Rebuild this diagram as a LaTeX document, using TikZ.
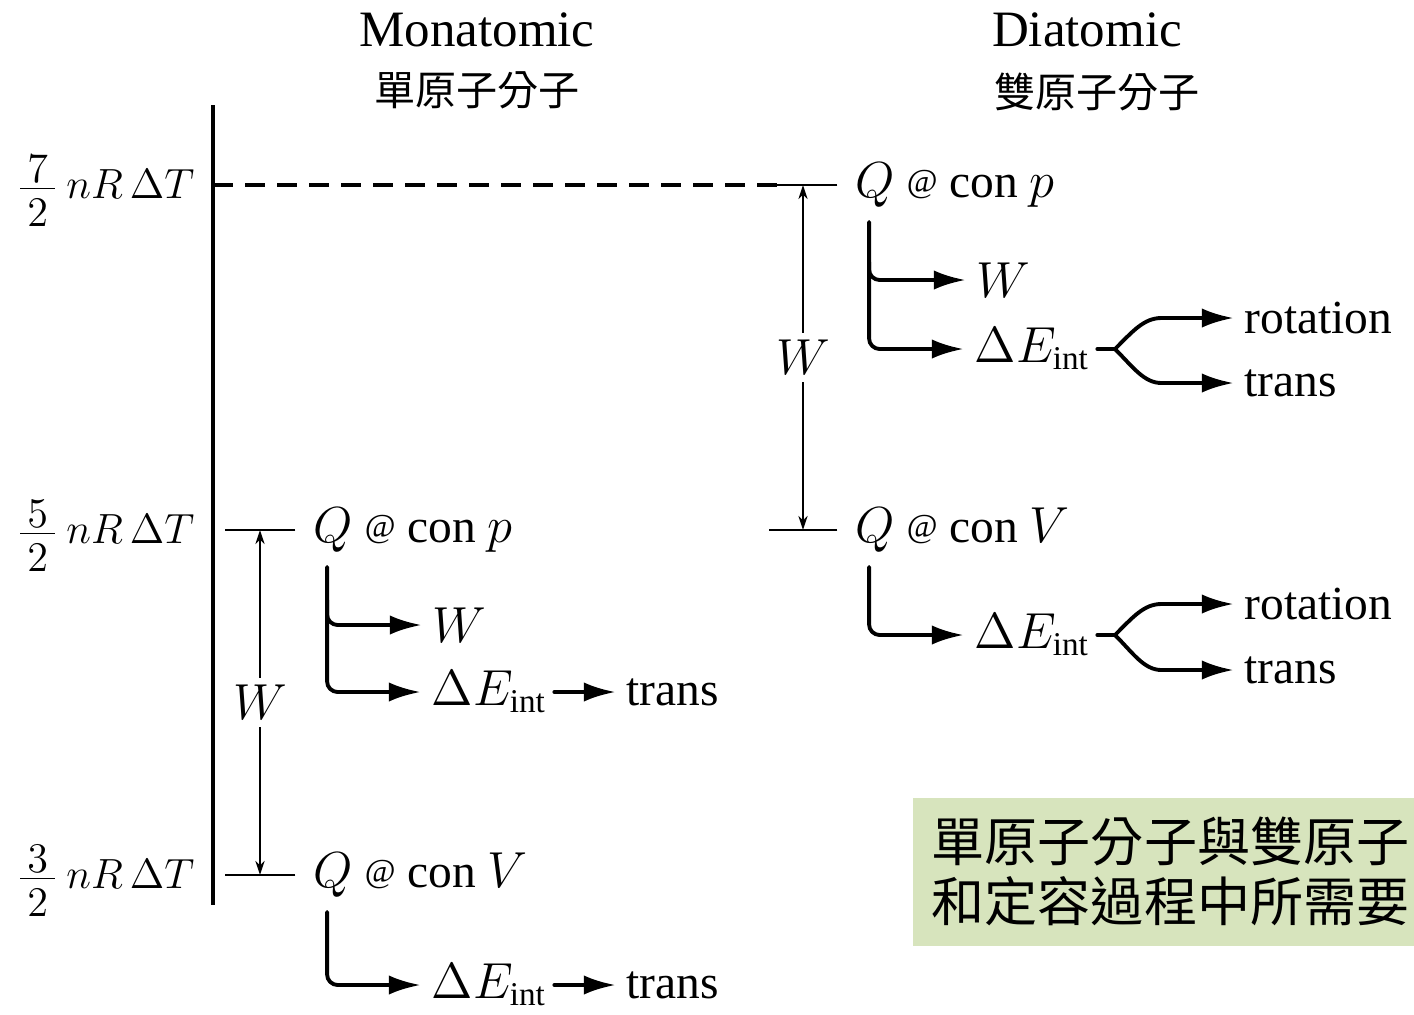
\documentclass[tikz,border=0pt]{standalone}
\usepackage{amsmath}
\usepackage{fontspec}
\setmainfont{Liberation Serif}
\newfontfamily\cjk{Noto Sans CJK TC}
\usepackage{tikz}
\usetikzlibrary{positioning,arrows.meta}
\definecolor{notegreen}{HTML}{D7E4BD}
\newcommand{\smallat}{\raisebox{1.5pt}{\fontsize{9.5}{10}\selectfont @}}
\newcommand{\Eint}{$\Delta E_{\mathrm{int}}$}
\newcommand{\lvlfrac}[1]{$\frac{\textstyle\mkern3mu #1\mkern3mu}{\textstyle\mkern3mu\rule{0pt}{10.2pt}2\mkern3mu}\,nR\,\Delta T$}

\begin{document}
\begin{tikzpicture}[
  x=0.01cm, y=-0.01cm,
  every node/.style={font=\fontsize{13.5}{16}\selectfont, inner sep=2pt},
  title/.style={font=\fontsize{14.5}{16}\selectfont},
  cjktitle/.style={font=\fontsize{11.7}{14}\selectfont\cjk},
  level/.style={anchor=east, font=\fontsize{12.5}{15}\selectfont},
  qbox/.style={anchor=west},
  leaf/.style={anchor=west},
  axis/.style={line width=1.2pt},
  stem/.style={line width=1.1pt, line cap=round},
  branch/.style={stem, rounded corners=3pt, -{Latex[length=9pt,width=5.5pt]}, shorten >=1pt},
  tick/.style={line width=0.45pt},
  dim/.style={line width=0.45pt, {Stealth[length=4pt,width=2.6pt]}-{Stealth[length=4pt,width=2.6pt]}},
  guide/.style={line width=0.9pt, dash pattern=on 5.7pt off 3.4pt},
  note/.style={fill=notegreen, anchor=north west, minimum height=1.48cm,
    text width=136pt, inner xsep=5.4pt, align=left, font=\fontsize{15.1}{17}\selectfont\cjk}
]
  \useasboundingbox (0,0) rectangle (1414,1014);

  % headings
  \node[title]    (monoT) at (477,30) {Monatomic};
  \node[cjktitle] (monoC) at (477,90) {單原子分子};
  \node[title]    (diaT)  at (1087,30) {Diatomic};
  \node[cjktitle] (diaC)  at (1097,92) {雙原子分子};

  % energy axis
  \draw[axis] (213,105) -- (213,905);
  \node[level] (lvl7) at (202,191) {\lvlfrac{7}};
  \node[level] (lvl5) at (202,536) {\lvlfrac{5}};
  \node[level] (lvl3) at (202,881) {\lvlfrac{3}};
  \coordinate (ax7) at (213,185);
  \coordinate (dashEnd) at (787,185);
  \draw[guide] (ax7) -- (dashEnd);

  % monatomic
  \node[qbox] (mpQ) at (306,530) {$Q$ \smallat\ con $p$};
  \node[qbox] (mvQ) at (306,875) {$Q$ \smallat\ con $V$};
  \draw[tick] ([xshift=-3pt]mpQ.west) -- ++(-70,0);
  \draw[tick] ([xshift=-3pt]mvQ.west) -- ++(-70,0);
  \coordinate (mx) at (260,0);
  \draw[dim] (mvQ.west -| mx) -- (mpQ.west -| mx) node[midway, fill=white] {$W$};

  \node[leaf] (mpW) at (425,625) {$W$};
  \node[leaf] (mpE) at (424,692) {\Eint};
  \node[leaf] (mpT) at (619,692) {trans};
  \coordinate (mpS) at ([xshift=6pt,yshift=-2pt]mpQ.south west);
  \draw[branch] (mpS) |- (mpE.west);
  \draw[branch] (mpS) ++(0,33) |- (mpW.west);
  \draw[branch] (mpE.east) -- (mpT.west);

  \node[leaf] (mvE) at (424,985) {\Eint};
  \node[leaf] (mvT) at (619,985) {trans};
  \coordinate (mvS) at ([xshift=6pt,yshift=-2pt]mvQ.south west);
  \draw[branch] (mvS) |- (mvE.west);
  \draw[branch] (mvE.east) -- (mvT.west);

  % diatomic
  \node[qbox] (dpQ) at (848,185) {$Q$ \smallat\ con $p$};
  \node[qbox] (dvQ) at (848,530) {$Q$ \smallat\ con $V$};
  \draw[tick] ([xshift=-3pt]dpQ.west) -- ++(-68,0);
  \draw[tick] ([xshift=-3pt]dvQ.west) -- ++(-68,0);
  \coordinate (dx) at (803,0);
  \draw[dim] (dvQ.west -| dx) -- (dpQ.west -| dx) node[midway, fill=white] {$W$};

  \coordinate (fk) at (1115,0);
  \coordinate (bk) at (1172,0);

  \node[leaf] (dpW) at (969,280) {$W$};
  \node[leaf] (dpE) at (967,349) {\Eint};
  \node[leaf] (dpR) at (1237,318) {rotation};
  \node[leaf] (dpT) at (1237,383) {trans};
  \coordinate (dpS) at ([xshift=6pt,yshift=-2pt]dpQ.south west);
  \draw[branch] (dpS) |- (dpE.west);
  \draw[branch] (dpS) ++(0,40) |- (dpW.west);
  \draw[stem] (dpE.east) -- (dpE.east -| fk) coordinate (dpF);
  \draw[branch] (dpF) .. controls +(18,-18) and +(-28,0) .. (dpR.west -| bk) -- (dpR.west);
  \draw[branch] (dpF) .. controls +(18,18) and +(-28,0) .. (dpT.west -| bk) -- (dpT.west);

  \node[leaf] (dvE) at (967,635) {\Eint};
  \node[leaf] (dvR) at (1237,604) {rotation};
  \node[leaf] (dvT) at (1237,670) {trans};
  \coordinate (dvS) at ([xshift=6pt,yshift=-2pt]dvQ.south west);
  \draw[branch] (dvS) |- (dvE.west);
  \draw[stem] (dvE.east) -- (dvE.east -| fk) coordinate (dvF);
  \draw[branch] (dvF) .. controls +(18,-18) and +(-28,0) .. (dvR.west -| bk) -- (dvR.west);
  \draw[branch] (dvF) .. controls +(18,18) and +(-28,0) .. (dvT.west -| bk) -- (dvT.west);

  % note
  \node[note] (note) at (912,797) {單原子分子與雙原子\\和定容過程中所需要};
\end{tikzpicture}
\end{document}
